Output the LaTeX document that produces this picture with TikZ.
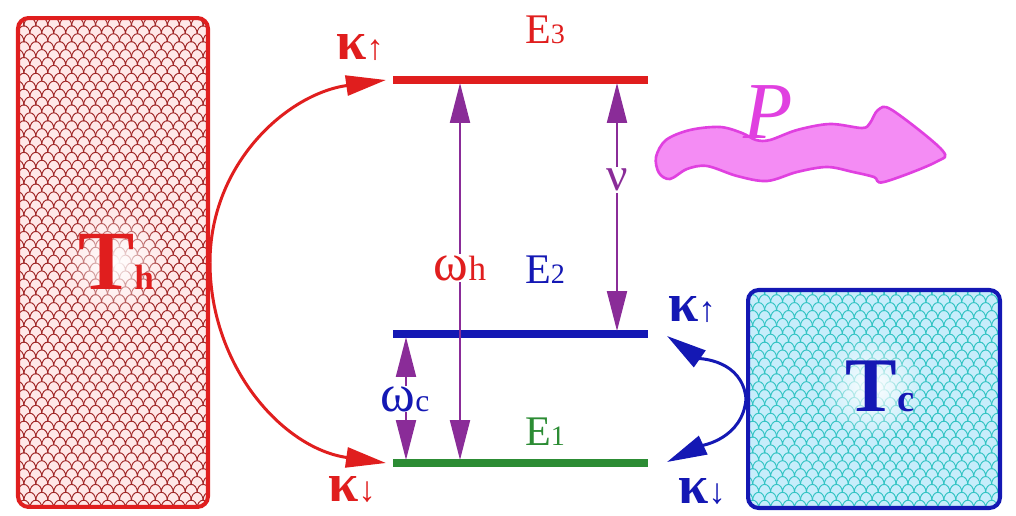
\documentclass[tikz,border=0pt]{standalone}
\usepackage{fontspec}
\setmainfont{Liberation Serif}
\usetikzlibrary{arrows.meta,patterns,fadings}
\definecolor{hotred}{HTML}{E01E1E}
\definecolor{hotscale}{HTML}{A02828}
\definecolor{coldblue}{HTML}{1418B4}
\definecolor{coldscale}{HTML}{34C4C4}
\definecolor{levgreen}{HTML}{2C8C34}
\definecolor{trpurple}{HTML}{8A2C98}
\definecolor{powmag}{HTML}{E040E0}
\definecolor{powfill}{HTML}{F48CF4}
\pgfdeclarepatternformonly{fishscales}{\pgfqpoint{-0.5pt}{-0.5pt}}{\pgfqpoint{7.3pt}{9.5pt}}{\pgfqpoint{6.8pt}{9pt}}{%
  \pgfsetlinewidth{0.55pt}%
  \pgfpathmoveto{\pgfqpoint{6.8pt}{0pt}}%
  \pgfpatharc{0}{180}{3.4pt and 4.5pt}%
  \pgfpathmoveto{\pgfqpoint{3.4pt}{4.5pt}}%
  \pgfpatharc{0}{180}{3.4pt and 4.5pt}%
  \pgfpathmoveto{\pgfqpoint{10.2pt}{4.5pt}}%
  \pgfpatharc{0}{180}{3.4pt and 4.5pt}%
  \pgfusepath{stroke}}
\tikzfading[name=glow, inner color=transparent!0, outer color=transparent!100]
\tikzset{
  bathbox/.style  = {line width=2.3pt, rounded corners=6pt, inner sep=0pt},
  hotbox/.style   = {bathbox, draw=hotred, preaction={fill=red!9},
                     pattern=fishscales, pattern color=hotscale},
  coldbox/.style  = {bathbox, draw=coldblue, preaction={fill=cyan!22},
                     pattern=fishscales, pattern color=coldscale},
  level/.style    = {line width=4pt},
  rate/.style     = {line width=1.7pt, -{Triangle[length=0.8cm,width=0.4cm]}},
  trans/.style    = {line width=1.2pt, trpurple, {Triangle[length=0.8cm,width=0.4cm]}-{Triangle[length=0.8cm,width=0.4cm]}},
  gaplabel/.style = {fill=white, inner sep=1pt},
  lvlabel/.style  = {font=\fontsize{24}{24}\selectfont}
}
\newcommand{\sm}[1]{{\fontsize{16}{16}\selectfont #1}}
\newcommand{\kup}{{\fontsize{31}{31}\selectfont\bfseries κ}{\fontsize{20}{20}\selectfont ↑}}
\newcommand{\kdown}{{\fontsize{31}{31}\selectfont\bfseries κ}{\fontsize{20}{20}\selectfont ↓}}
\begin{document}
\begin{tikzpicture}[x=0.02cm,y=-0.02cm]
  \useasboundingbox (0,0) rectangle (1016,516);
  % heat baths
  \node[hotbox,  minimum width=3.8cm,  minimum height=9.78cm] (th) at (113,262.5) {};
  \node[coldbox, minimum width=5.04cm, minimum height=4.36cm] (tc) at (874,399) {};
  \fill[white, path fading=glow] (115,262) circle[radius=1.05cm];
  \fill[white, path fading=glow] (872,386) circle[radius=1.05cm];
  \node[text=hotred, font=\bfseries] (thl) at (116,262)
        {{\fontsize{48}{48}\selectfont T}{\fontsize{20}{20}\selectfont h}};
  \node[text=coldblue, font=\bfseries] (tcl) at (880,386)
        {{\fontsize{44}{44}\selectfont T}{\fontsize{22}{22}\selectfont c}};
  % energy levels
  \coordinate (e3a) at (393,80);  \coordinate (e3b) at (648,80);
  \coordinate (e2a) at (393,334); \coordinate (e2b) at (648,334);
  \coordinate (e1a) at (393,463); \coordinate (e1b) at (648,463);
  \draw[level, hotred]   (e3a) -- (e3b);
  \draw[level, coldblue] (e2a) -- (e2b);
  \draw[level, levgreen] (e1a) -- (e1b);
  \node[lvlabel, text=hotred]   (e3) at (545,30)  {E\sm{3}};
  \node[lvlabel, text=coldblue] (e2) at (545,270) {E\sm{2}};
  \node[lvlabel, text=levgreen] (e1) at (545,432) {E\sm{1}};
  % transitions
  \coordinate (wh3) at (460,83);  \coordinate (wh1) at (460,460);
  \coordinate (nu3) at (617,83);  \coordinate (nu2) at (617,331);
  \coordinate (wc2) at (406,337); \coordinate (wc1) at (406,460);
  \draw[trans] (wh1) -- (wh3);
  \draw[trans] (nu2) -- (nu3);
  \draw[trans] (wc1) -- (wc2);
  \node[gaplabel, text=hotred] (wh) at (460,268)
        {{\fontsize{30}{30}\selectfont ω}{\fontsize{20}{20}\selectfont h}};
  \node[gaplabel, text=trpurple, font=\fontsize{27}{27}\selectfont] (nu) at (617,180) {ν};
  \node[gaplabel, text=coldblue, inner sep=0pt] (wc) at (405,399)
        {{\fontsize{30}{30}\selectfont ω}{\fontsize{18}{18}\selectfont c}};
  % pumping rates
  \coordinate (hup) at (386,80);  \coordinate (hdn) at (386,463);
  \coordinate (cup) at (667,336); \coordinate (cdn) at (667,462);
  \draw[rate, hotred] (th.east) to[out=90,in=188] (hup);
  \draw[rate, hotred] (th.east) to[out=-90,in=172] (hdn);
  \draw[rate, coldblue] (tc.west) to[out=95,in=-35] (cup);
  \draw[rate, coldblue] (tc.west) to[out=-95,in=25] (cdn);
  \node[text=hotred]   (khu) at (360,48)  {\kup};
  \node[text=hotred]   (khd) at (352,490) {\kdown};
  \node[text=coldblue] (kcu) at (692,310) {\kup};
  \node[text=coldblue] (kcd) at (702,492) {\kdown};
  % output power
  \draw[powmag, line width=1.5pt, fill=powfill] plot[smooth cycle, tension=0.55] coordinates {
        (656,157) (666,140) (690,130) (720,127) (742,133) (756,140) (770,140)
        (797,130) (830,124) (862,128) (870,123) (878,110) (892,110) (942,150)
        (936,162) (884,182) (874,177) (853,172) (827,167) (797,172) (767,181)
        (737,176) (707,166) (687,169) (670,179) (659,173)};
  \node[text=powmag, font=\fontsize{46}{46}\selectfont\itshape] (pw) at (768,112) {P};
\end{tikzpicture}
\end{document}
